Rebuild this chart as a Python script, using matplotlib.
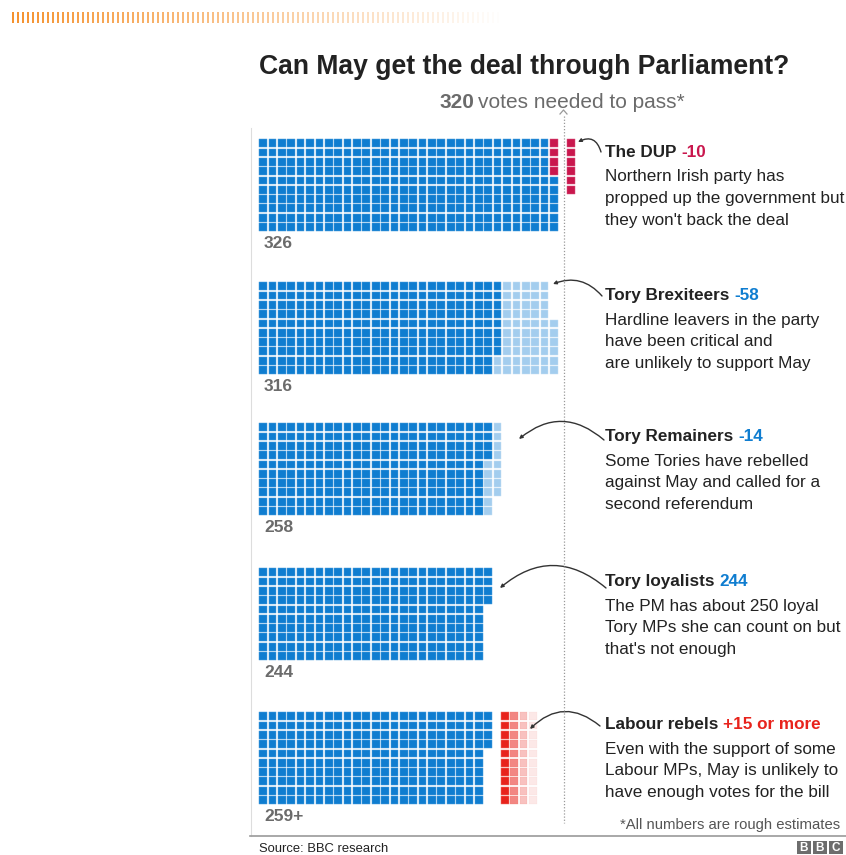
import matplotlib
matplotlib.use("Agg")
import matplotlib.pyplot as plt
from matplotlib.patches import Rectangle, FancyArrowPatch

plt.rcParams['font.family'] = ['Liberation Sans', 'DejaVu Sans']

# ---- data ----
title = "Can May get the deal through Parliament?"
needed = 320
totals = ["326", "316", "258", "244", "259+"]

# main grid segments per block: (count, colour key)
segments = [
    [(316, 'blue'), (4, 'dup')],
    [(258, 'blue'), (58, 'light')],
    [(244, 'blue'), (14, 'light')],
    [(244, 'blue')],
    [(244, 'blue')],
]
flip_last = [True, True, False, False, False]
# extra cells drawn apart from the main grid: (count, colour key, fade)
extras = [(6, 'dup', False), None, None, None, (40, 'labour', True)]

heads = ["The DUP ", "Tory Brexiteers ", "Tory Remainers ", "Tory loyalists ", "Labour rebels "]
head_vals = ["-10", "-58", "-14", "244", "+15 or more"]
head_cols = ['dup', 'blue', 'blue', 'blue', 'labour']
bodies = [
    ["Northern Irish party has", "propped up the government but", "they won't back the deal"],
    ["Hardline leavers in the party", "have been critical and", "are unlikely to support May"],
    ["Some Tories have rebelled", "against May and called for a", "second referendum"],
    ["The PM has about 250 loyal", "Tory MPs she can count on but", "that's not enough"],
    ["Even with the support of some", "Labour MPs, May is unlikely to", "have enough votes for the bill"],
]

colors = {'blue': '#0f7dd0', 'light': '#a3cdee', 'dup': '#c9174d', 'labour': '#e8231c'}
edge = {'blue': '#4d9fde', 'light': '#c6e0f5', 'dup': '#d95580', 'labour': '#f07a70'}

# ---- layout (pixels) ----
W, H = 846, 855
fig = plt.figure(figsize=(W / 100, H / 100), dpi=100)
ax = fig.add_axes([0, 0, 1, 1])
ax.set_xlim(0, W)
ax.set_ylim(H, 0)
ax.axis('off')

x0 = 259
pitch_x, pitch_y = 9.38, 9.32
sq = 7.7
block_tops = [139, 282, 423, 568, 712]
extra_x = [566.7, None, None, None, 500.7]
line_x = 563.5
text_x = 605
head_base = [157, 300, 441, 586, 729]
grey = '#6b6b6b'
dark = '#222222'


def draw_cell(x, y, key, alpha=1.0):
    ax.add_patch(Rectangle((x + 0.25, y + 0.25), sq, sq, facecolor=colors[key],
                           edgecolor=edge[key], linewidth=0.35, alpha=alpha))


for b in range(5):
    top = block_tops[b]
    seq = []
    for n, key in segments[b]:
        seq += [key] * n
    ncols = (len(seq) + 9) // 10
    for i, key in enumerate(seq):
        c, r = divmod(i, 10)
        if flip_last[b] and c == ncols - 1:
            r = 9 - r
        draw_cell(x0 + c * pitch_x, top + r * pitch_y, key)
    if extras[b] is not None:
        n, key, fade = extras[b]
        for i in range(n):
            c, r = divmod(i, 10)
            a = [1.0, 0.55, 0.28, 0.1][c] if fade else 1.0
            draw_cell(extra_x[b] + c * pitch_x, top + r * pitch_y, key, a)
    ax.text(264, top + 10 * pitch_y + 16, totals[b], fontsize=12.5, fontweight='bold',
            color=grey, va='baseline', ha='left')

    # headline + body
    t = ax.text(text_x, head_base[b], heads[b], fontsize=12.3, fontweight='bold', color=dark,
                va='baseline', ha='left')
    fig.canvas.draw()
    bb = t.get_window_extent()
    ax.text(bb.x1, head_base[b], head_vals[b], fontsize=12.3, fontweight='bold',
            color=colors[head_cols[b]], va='baseline', ha='left')
    for j, line in enumerate(bodies[b]):
        ax.text(text_x, head_base[b] + 24.5 + j * 21.6, line, fontsize=12.3, color=dark,
                va='baseline', ha='left')

# curved pointers from the notes to the grids
arrows = [((601, 152), (578, 142), 0.6), ((602, 296), (553, 284), 0.35),
          ((604, 440), (519, 439), 0.42), ((606, 588), (500, 588), 0.42),
          ((600, 726), (530, 729), 0.45)]
for (s, e, rad) in arrows:
    ax.add_patch(FancyArrowPatch(s, e, connectionstyle=f"arc3,rad={rad}",
                                 arrowstyle='-|>,head_length=2.0,head_width=1.0',
                                 color='#333333', linewidth=1.0, shrinkA=0, shrinkB=0))

# threshold line
ax.plot([line_x, line_x], [116, 823], color='#999999', linestyle=(0, (1, 1.5)), linewidth=0.9)
ax.plot([line_x - 3.5, line_x, line_x + 3.5], [114, 110, 114], color='#999999', linewidth=0.9)
t = ax.text(439, 108, str(needed), fontsize=15, fontweight='bold', color=grey,
            va='baseline', ha='left')
fig.canvas.draw()
bb = t.get_window_extent()
ax.text(bb.x1 + 4, 108, "votes needed to pass*", fontsize=15, color=grey,
        va='baseline', ha='left')

# title
ax.text(259, 74, title, fontsize=19.1, fontweight='bold', color=dark, va='baseline', ha='left')

# top decorative bar
for k in range(98):
    ax.add_patch(Rectangle((12 + k * 5.0, 12), 2.0, 11, facecolor='#f5922f', edgecolor='none',
                           alpha=max(0.0, 1 - k / 98)))

# frame, footnote, source, logo
ax.plot([251, 251], [128, 836], color='#dddddd', linewidth=0.8)
ax.plot([250, 846], [836, 836], color='#9a9a9a', linewidth=1.2)
ax.text(840, 829, "*All numbers are rough estimates", fontsize=10.7, color='#555555',
        va='baseline', ha='right')
ax.text(259, 852, "Source: BBC research", fontsize=9.4, color='#222222', va='baseline', ha='left')
for k, ch in enumerate("BBC"):
    ax.add_patch(Rectangle((797 + k * 16, 841), 14, 13, facecolor='#6d6d6d', edgecolor='none'))
    ax.text(804 + k * 16, 848, ch, fontsize=8.5, fontweight='bold', color='white',
            ha='center', va='center')

fig.savefig('out.png', dpi=100)
